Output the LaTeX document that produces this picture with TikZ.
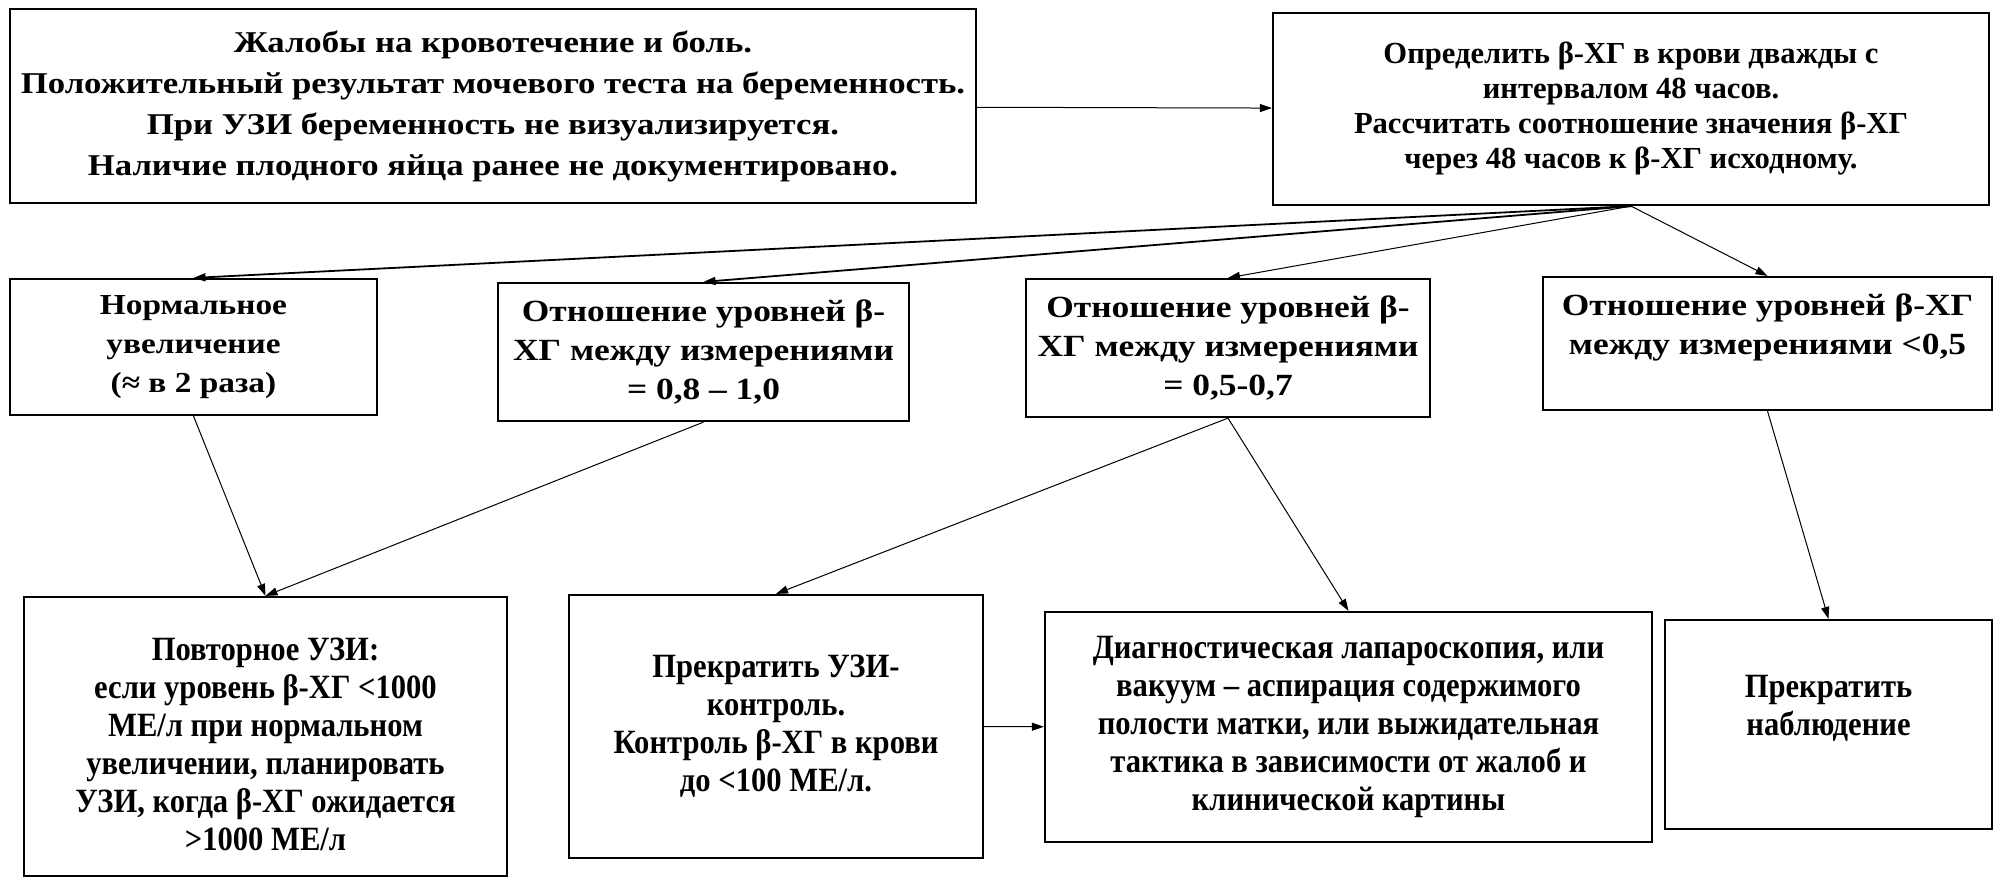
\documentclass[tikz,border=0pt]{standalone}
\usepackage{fontspec}
\setmainfont{Liberation Serif}
\newfontfamily\widefont{Liberation Serif}[FakeStretch=1.15]
\newfontfamily\narrowfont{Liberation Serif}[FakeStretch=0.9]
\usetikzlibrary{arrows.meta}

\begin{document}
\begin{tikzpicture}[x=0.5pt, y=-0.5pt,
    box/.style={draw, line width=1.1pt, align=center, inner sep=0pt},
    wide/.style={font=\widefont\fontsize{15.1}{20.5}\selectfont\bfseries},
    mid/.style={font=\widefont\fontsize{15.4}{19.5}\selectfont\bfseries},
    tall/.style={font=\narrowfont\fontsize{17}{19}\selectfont\bfseries},
    link/.style={-{Triangle[length=6pt,width=4pt]}, line width=0.5pt}]
    \useasboundingbox (0,0) rectangle (2005,888);

    % top row
    \node[box, wide, minimum width=483pt, minimum height=97pt] (complaints) at (493,106)
        {Жалобы на кровотечение и боль.\\
         Положительный результат мочевого теста на беременность.\\
         При УЗИ беременность не визуализируется.\\
         Наличие плодного яйца ранее не документировано.};
    \node[box, font=\fontsize{15.3}{17.5}\selectfont\bfseries,
          minimum width=358pt, minimum height=96pt] (hcg) at (1631,109)
        {Определить β-ХГ в крови дважды с\\
         интервалом 48 часов.\\
         Рассчитать соотношение значения β-ХГ\\
         через 48 часов к β-ХГ исходному.};

    % ratios
    \node[box, mid, font=\widefont\fontsize{14.5}{19.5}\selectfont\bfseries,
          minimum width=183.5pt, minimum height=68pt] (normal) at (193.5,347)
        {Нормальное\\увеличение\\(≈ в 2 раза)};
    \node[box, mid, minimum width=205.5pt, minimum height=69pt] (slow) at (703.5,352)
        {Отношение уровней β-\\ХГ между измерениями\\= 0,8 – 1,0};
    \node[box, mid, minimum width=202pt, minimum height=69pt] (moderate) at (1228,348)
        {Отношение уровней β-\\ХГ между измерениями\\= 0,5-0,7};
    \node[box, mid, minimum width=224.5pt, minimum height=66.5pt] (fall) at (1767.5,343.5)
        {Отношение уровней β-ХГ\\между измерениями <0,5\\\mbox{}};

    % actions
    \node[box, tall, minimum width=241.5pt, minimum height=139.5pt] (repeatus) at (265.5,736.5)
        {\mbox{}\\Повторное УЗИ:\\если уровень β-ХГ <1000\\МЕ/л при нормальном\\
         увеличении, планировать\\УЗИ, когда β-ХГ ожидается\\>1000 МЕ/л};
    \node[box, tall, minimum width=207pt, minimum height=131.5pt] (stopus) at (776,726.5)
        {Прекратить УЗИ-\\контроль.\\Контроль β-ХГ в крови\\до <100 МЕ/л.};
    \node[box, tall, minimum width=303.5pt, minimum height=115pt] (laparo) at (1348.5,727)
        {Диагностическая лапароскопия, или\\вакуум – аспирация содержимого\\
         полости матки, или выжидательная\\тактика в зависимости от жалоб и\\
         клинической картины};
    \node[box, tall, minimum width=163.5pt, minimum height=104.5pt] (stopobs) at (1828.5,724.5)
        {Прекратить\\наблюдение\\\mbox{}};

    \draw[link] (complaints) -- (hcg);
    \draw[link, line width=0.9pt] (hcg.south) -- (normal.north);
    \draw[link, line width=0.9pt] (hcg.south) -- (slow.north);
    \draw[link] (hcg.south) -- (moderate.north);
    \draw[link] (hcg.south) -- (fall.north);
    \draw[link] (normal.south) -- (repeatus.north);
    \draw[link] (slow.south) -- (repeatus.north);
    \draw[link] (moderate.south) -- (stopus.north);
    \draw[link] (moderate.south) -- (laparo.north);
    \draw[link] (fall.south) -- (stopobs.north);
    \draw[link] (stopus) -- (laparo);
\end{tikzpicture}
\end{document}
